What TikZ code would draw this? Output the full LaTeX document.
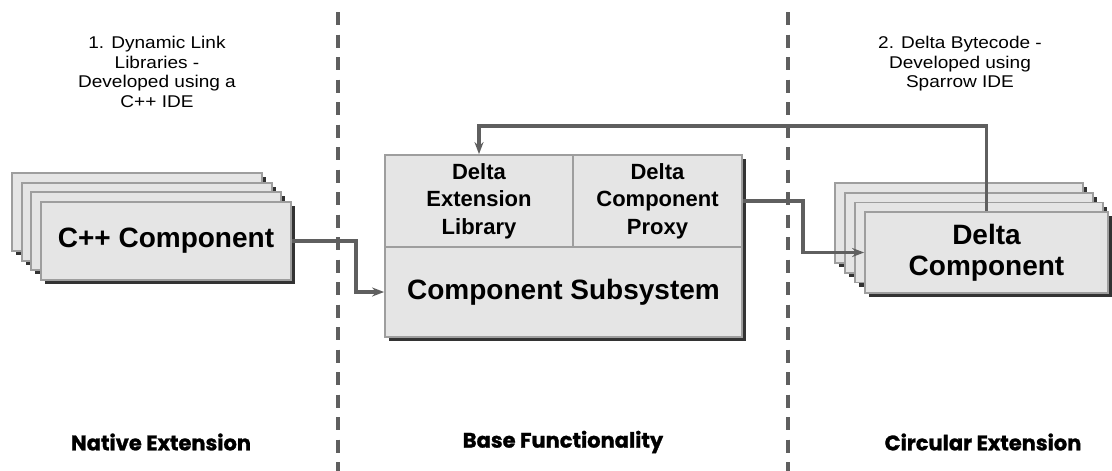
\documentclass[tikz,border=0pt]{standalone}
\usepackage{fontspec}
\setmainfont{Liberation Sans}
\newfontfamily\notefont[FakeStretch=1.12]{Liberation Sans}
\newfontfamily\regionfont[BoldFeatures={FakeBold=1.2}]{Poppins}
\usetikzlibrary{arrows.meta,shadows}
\definecolor{cardfill}{HTML}{E5E5E5}
\definecolor{cardedge}{HTML}{9E9E9E}
\definecolor{cardshade}{HTML}{333333}
\definecolor{wiregray}{HTML}{5F5F5F}

\begin{document}
\begin{tikzpicture}[x=1pt,y=-1pt,
  card/.style={draw=cardedge, line width=1.8pt, fill=cardfill, inner sep=0pt,
    align=center,
    drop shadow={shadow xshift=4pt, shadow yshift=-4pt, opacity=1, fill=cardshade}},
  cell/.style={draw=cardedge, line width=1.8pt, fill=cardfill, inner sep=0pt, align=center},
  bigtext/.style={font=\fontsize{28}{31}\selectfont\bfseries},
  celltext/.style={font=\fontsize{22}{27.5}\selectfont\bfseries},
  note/.style={font=\notefont\fontsize{17}{19.5}\selectfont, align=center},
  region/.style={font=\regionfont\bfseries\fontsize{21}{24}\selectfont},
  link/.style={draw=wiregray, line width=3.4pt, -{Stealth[length=12pt,width=9pt]}},
  partition/.style={draw=wiregray, line width=3.4pt, dash pattern=on 13pt off 9.5pt}
]
\useasboundingbox (0,0) rectangle (1112,471);

% section dividers
\draw[partition] (338,12) -- (338,471);
\draw[partition] (788,12) -- (788,471);

% native extension: stack of C++ components
\node[card, minimum width=250pt, minimum height=78pt] (cppa) at (137,212) {};
\node[card, minimum width=250pt, minimum height=78pt] (cppb) at (146.7,221.7) {};
\node[card, minimum width=250pt, minimum height=78pt] (cppc) at (156.3,231.3) {};
\node[card, bigtext, minimum width=250pt, minimum height=78pt] (cpp) at (166,241) {C++ Component};

% base functionality: component subsystem block
\node[card, minimum width=357pt, minimum height=182pt] (base) at (563.5,246) {};
\node[cell, celltext, minimum width=188pt, minimum height=92pt] (ext) at (479,201) {Delta\\Extension\\Library};
\node[cell, celltext, minimum width=169pt, minimum height=92pt] (proxy) at (657.5,201) {Delta\\Component\\Proxy};
\node[cell, bigtext, minimum width=357pt, minimum height=90pt] (sub) at (563.5,292) {Component Subsystem};

% circular extension: stack of Delta components
\node[card, minimum width=248pt, minimum height=80pt] (dca) at (959,223) {};
\node[card, minimum width=248pt, minimum height=80pt] (dcb) at (969,233) {};
\node[card, minimum width=248pt, minimum height=80pt] (dcc) at (979,242.5) {};
\node[card, bigtext, minimum width=243pt, minimum height=81pt] (dc) at (986.5,252.5) {Delta\\Component};

% connectors
\draw[link] (cpp.east) -- ++(64,0) |- (sub.west);
\draw[link] (proxy.east) -- ++(60,0) |- (dc.west);
\draw[link] (dc.north) -- ++(0,-85) -| (ext.north);

% notes
\node[note] (dllnote) at (157,72) {1. Dynamic Link\\Libraries -\\Developed using a\\C++ IDE};
\node[note] (bytenote) at (960,64) {2. Delta Bytecode -\\Developed using\\Sparrow IDE};

% section titles
\node[region] (native) at (161,442) {Native Extension};
\node[region] (basef) at (563,442) {Base Functionality};
\node[region] (circular) at (983,442) {Circular Extension};
\end{tikzpicture}
\end{document}
